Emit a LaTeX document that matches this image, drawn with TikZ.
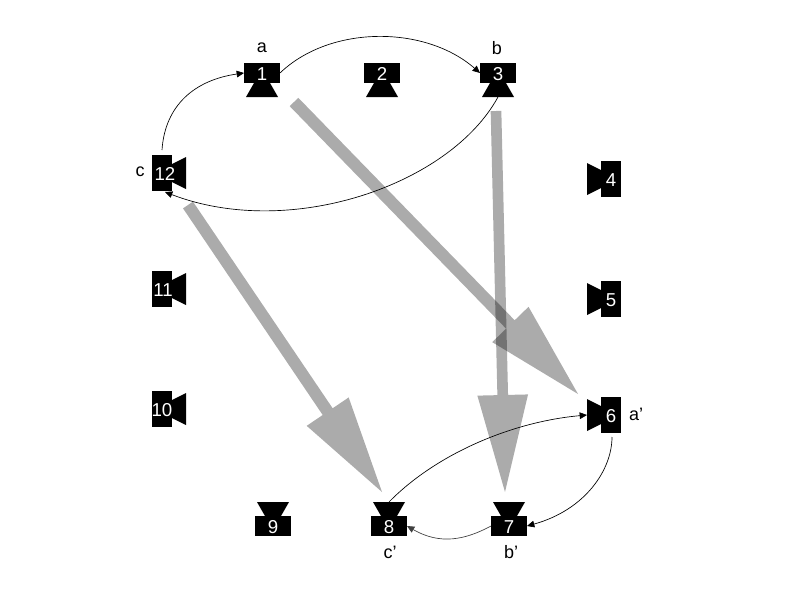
\documentclass[tikz,border=0pt]{standalone}
\usepackage{fontspec}
\setmainfont{Liberation Sans}
\usetikzlibrary{arrows.meta,calc}
\tikzset{
  x=0.75pt,y=-0.75pt,
  cambody/.style={fill=black,text=white,minimum width=27pt,minimum height=15pt,inner sep=0pt,outer sep=0pt,text height=11.5pt,text depth=0pt,font=\fontsize{14}{16}\selectfont},
  camside/.style={cambody,minimum width=15pt,minimum height=27pt},
  lens/.style={fill=black,draw=none},
  lbl/.style={font=\fontsize{13.5}{15}\selectfont,inner sep=0pt},
  link/.style={draw=black,line width=0.5pt,-{Triangle[length=5.5pt,width=5pt]}},
  bigarrow/.style={fill=black,fill opacity=0.33,draw=none}
}
% \flowarrow{start}{tip}{half shaft width}
\newcommand{\flowarrow}[3]{%
  \coordinate (fb) at ($(#2)!72.75pt!(#1)$);
  \path[bigarrow]
   ($(#1)!#3!90:(#2)$) -- ($(fb)!#3!-90:(#1)$) -- ($(fb)!19pt!-90:(#1)$) -- (#2)
   -- ($(fb)!19pt!90:(#1)$) -- ($(fb)!#3!90:(#1)$) -- ($(#1)!#3!-90:(#2)$) -- cycle;
}
\begin{document}
\begin{tikzpicture}
\useasboundingbox[fill=white] (0,0) rectangle (800,600);
% top cameras
\foreach \x/\y/\n in {262/73/1,382/73/2,498/73/3}{
  \path[lens] (\x-8,\y+10) -- (\x+8,\y+10) -- (\x+16,\y+24) -- (\x-16,\y+24) -- cycle;
  \node[cambody] (c\n) at (\x,\y) {\n};
  \coordinate (l\n) at (\x,\y+24);
}
% bottom cameras
\foreach \x/\y/\n in {509/526/7,389/526/8,273/526/9}{
  \path[lens] (\x-8,\y-10) -- (\x+8,\y-10) -- (\x+16,\y-24) -- (\x-16,\y-24) -- cycle;
  \node[cambody] (c\n) at (\x,\y) {\n};
  \coordinate (l\n) at (\x,\y-24);
}
% right cameras
\foreach \x/\y/\n in {611/179/4,611/299/5,611/415/6}{
  \path[lens] (\x-10,\y-9) -- (\x-10,\y+9) -- (\x-24,\y+16) -- (\x-24,\y-16) -- cycle;
  \node[camside] (c\n) at (\x,\y) {\n};
  \coordinate (l\n) at (\x-24,\y);
}
% left cameras
\foreach \x/\y/\n/\d in {162/173/12/4.5pt,162/289/11/1.5pt,162/409/10/0pt}{
  \path[lens] (\x+10,\y-9) -- (\x+10,\y+9) -- (\x+24,\y+16) -- (\x+24,\y-16) -- cycle;
  \node[camside] (c\n) at (\x,\y) {\makebox[0pt][c]{\hspace*{\d}\n}};
  \coordinate (l\n) at (\x+24,\y);
}
% labels
\node[lbl] (la) at (262,48) {a};
\node[lbl] (lb) at (497,48) {b};
\node[lbl] (lc) at (140,172) {c};
\node[lbl] (lap) at (636,414) {a’};
\node[lbl] (lbp) at (511,552) {b’};
\node[lbl] (lcp) at (390,552) {c’};
% connector ends that stand clear of the cameras
\coordinate (e12n) at ($(c12.north)+(0,-5)$);
\coordinate (e12s) at ($(c12.south)+(3,1)$);
\coordinate (e6s) at ($(c6.south)+(1,4)$);
% thin arcs
\draw[link] (c1.east) .. controls (330,25) and (425,25) .. (c3.west);
\draw[link] (l3) .. controls (450,185) and (290,240) .. (e12s);
\draw[link] (e12n) .. controls (165,105) and (195,80) .. (c1.west);
\draw[link] (e6s) .. controls (612,470) and (585,510) .. (c7.east);
\draw[link,draw=black!75] (c7.west) .. controls (465,540) and (440,545) .. (c8.east);
\draw[link] (l8) .. controls (435,455) and (510,422) .. (l6);
% thick grey arrows
\coordinate (g1s) at (294,102); \coordinate (g1t) at (578,394);
\coordinate (g2s) at (496,111); \coordinate (g2t) at (505,492);
\coordinate (g3s) at (188,205); \coordinate (g3t) at (382,492);
\flowarrow{g1s}{g1t}{4.5pt}
\flowarrow{g2s}{g2t}{4pt}
\flowarrow{g3s}{g3t}{4.5pt}
\end{tikzpicture}
\end{document}
